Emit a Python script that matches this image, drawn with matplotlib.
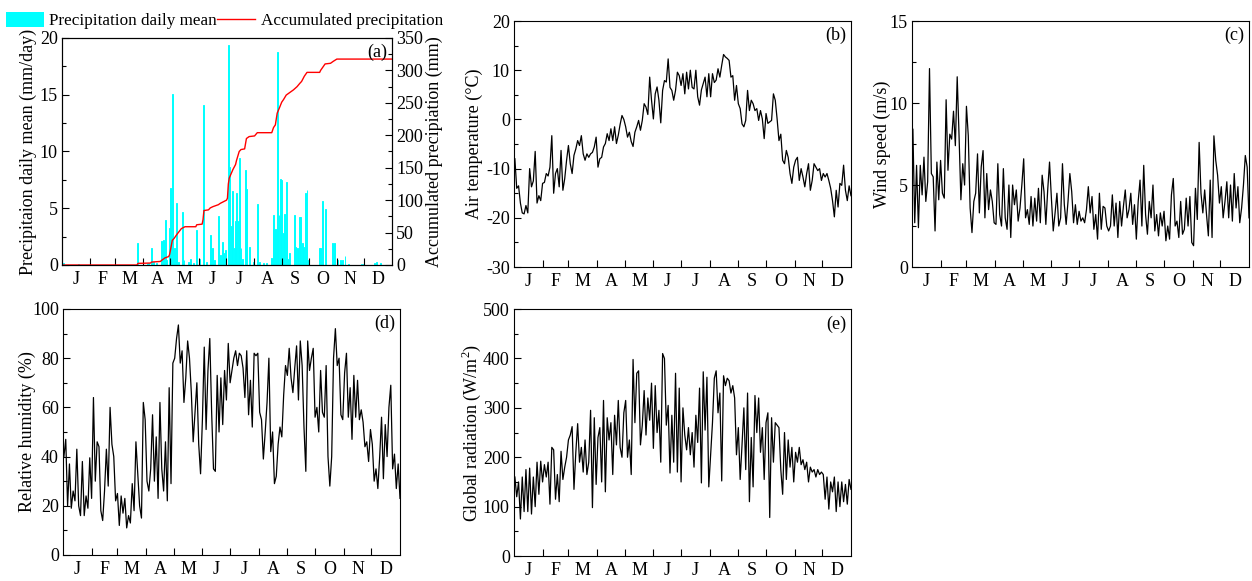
import numpy as np
import matplotlib
matplotlib.use("Agg")
import matplotlib.pyplot as plt
from matplotlib.patches import Patch
from matplotlib.lines import Line2D
from matplotlib.ticker import AutoMinorLocator

plt.rcParams['font.family'] = ['Liberation Serif', 'DejaVu Serif']
plt.rcParams['mathtext.fontset'] = 'custom'
plt.rcParams['mathtext.rm'] = 'Liberation Serif'
plt.rcParams['axes.unicode_minus'] = False

# months
month_edges = [31, 59, 90, 120, 151, 181, 212, 243, 273, 304, 334]
month_mid = [15.5, 45, 74.5, 105, 135.5, 166, 196.5, 227.5, 258, 288.5, 319, 349.5]
month_labels = ['J', 'F', 'M', 'A', 'M', 'J', 'J', 'A', 'S', 'O', 'N', 'D']

# (a) daily precipitation, rainy days only (mm/day)
rain_days = [2, 18, 84, 94, 96, 99, 101, 105, 110, 112, 114, 116, 119, 120, 122, 124,
             127, 129, 133, 135, 140, 142, 145, 149, 152, 156, 157, 160, 164, 166, 169,
             173, 175, 178, 179, 181, 184, 185, 187, 189, 191, 192, 193, 195, 196, 198,
             200, 203, 204, 207, 212, 216, 218, 223, 226, 232, 234, 236, 238, 240, 242,
             243, 245, 246, 248, 251, 252, 257, 258, 260, 261, 263, 264, 266, 267, 269,
             271, 273, 285, 286, 288, 291, 292, 299, 301, 302, 305, 308, 310, 313, 317,
             331, 333, 346, 348, 352]
rain_vals = [0.15, 0.1, 1.9, 0.2, 0.2, 1.5, 0.3, 0.2, 2.1, 2.2, 4.0, 0.4, 3.3, 6.8, 15.1, 1.5,
             5.5, 0.3, 4.7, 0.4, 0.3, 0.5, 0.2, 3.1, 0.5, 5.9, 14.1, 0.3, 2.6, 1.5, 0.4,
             4.3, 0.9, 2.0, 1.1, 1.3, 19.4, 8.6, 3.4, 6.5, 1.5, 3.9, 6.3, 3.9, 9.4, 1.5,
             0.5, 8.4, 6.7, 1.6, 0.3, 5.4, 0.3, 0.2, 0.2, 0.6, 4.4, 3.2, 18.8, 4.4, 7.6,
             7.5, 2.8, 4.5, 7.3, 0.5, 1.1, 4.4, 1.6, 1.5, 1.4, 4.2, 4.2, 1.9, 1.6, 6.3,
             6.6, 0.4, 1.5, 1.5, 5.6, 4.9, 0.3, 1.9, 1.9, 0.8, 0.4, 0.4, 0.4, 0.8, 0.1,
             0.1, 0.1, 0.2, 0.3, 0.2]

# (a) accumulated precipitation (mm)
acc_days = [1, 83, 84, 98, 99, 109, 110, 114, 118, 119, 120, 122, 124, 127, 132, 136,
            148, 149, 155, 156, 157, 162, 164, 167, 173, 175, 182, 183, 184, 185, 189,
            192, 193, 196, 198, 202, 204, 207, 213, 216, 232, 234, 236, 238, 241, 243,
            245, 248, 252, 256, 260, 263, 265, 268, 271, 285, 286, 288, 291, 297, 300,
            304, 365]
acc_vals = [0, 0, 2.5, 3, 4.5, 5.5, 7, 11, 13, 16, 23, 38, 41, 47, 56, 59,
            59, 62, 63, 70, 84, 85, 88, 90, 93, 95, 100, 103, 125, 134, 147,
            155, 161, 175, 178, 179, 195, 198, 199, 204, 204, 212, 216, 234, 244, 251,
            255, 262, 266, 270, 275, 280, 283, 291, 297, 297, 300, 304, 310, 311, 314,
            317.5, 317.5]

# daily series sampled every second day (day 1, 3, ..., 365), one row per month
days = np.arange(1, 366, 2)

air_temp = [
    -8, -14, -13.5, -17, -19, -19.2, -17.5, -19, -10, -13.7, -12.5, -6.5, -17, -15.5, -16.5, -13,
    -12.8, -11, -11.5, -9.7, -3.3, -15, -11, -10, -13.7, -6.3, -14.4, -12, -8.3, -5.3,
    -9, -11, -7.3, -6, -4.3, -5.3, -3.3, -7, -8.3, -7, -7.7, -7, -6.7, -5.6, -3.6,
    -9.7, -8, -7.7, -5.6, -4.9, -2.9, -4.3, -1.9, -4.3, -1.5, -4.9, -3.2, -1, 0.8, 0,
    -1.5, -3.6, -2.6, -4.5, -5.5, -2.6, -1.5, -0.2, -2.2, -0.2, 3.2, 2.5, 1.0, 8.6, 3.9, 0.1,
    5.2, 6.6, 3.9, -0.7, 5.9, 7.9, 7.6, 12.3, 6.5, 5.9, 3.9, 5.9, 9.6, 8.9, 6.9,
    9.3, 5.2, 9.6, 6.2, 10, 6.5, 6.2, 10, 4.6, 2.9, 6, 7.3, 8.6, 4.6, 9.3,
    4.6, 9.3, 7.5, 8, 10.3, 8.6, 11, 13.2, 12.7, 12.4, 12, 8.6, 8.9, 3.9, 6.9, 3.2,
    2.2, -0.9, -1.5, -0.2, 5.9, 1.8, 3.9, 3.2, 1.8, 2.2, -0.2, 1.8, 0.1, -3.9, 1.2,
    -0.8, -0.5, -0.2, 5.2, 3.9, 0.1, -4.3, -3, -8.3, -9, -6.3, -7.7, -11, -13, -9.7,
    -8.3, -7.7, -12.4, -10, -11.7, -13.7, -11, -9, -14.4, -12.4, -9, -9.7, -10.4, -10, -12.4,
    -11, -11.7, -11, -12.4, -14, -16.5, -19.8, -14.4, -17.8, -13, -13.4, -9.3, -14.4, -16.5, -13.5, -15.5,
]

wind_speed = [
    8.4, 2.7, 6.2, 2.4, 6.2, 4.4, 6.7, 4.0, 5.2, 12.1, 5.7, 5.5, 2.2, 6.4, 4.1, 6.5,
    4.5, 4.2, 10.2, 5.9, 8.1, 7.8, 9.5, 7.4, 11.6, 8.0, 4.1, 6.3, 5.0, 9.8,
    8.0, 3.6, 2.1, 4.0, 4.5, 6.9, 3.3, 6.1, 7.1, 3.0, 5.7, 3.5, 4.7, 4.0, 2.7,
    2.6, 6.3, 3.2, 2.5, 6.0, 3.0, 2.3, 5.0, 1.8, 5.0, 3.8, 4.7, 2.8, 3.6, 5.0,
    6.6, 3.0, 3.5, 2.6, 4.3, 2.5, 4.2, 2.8, 4.8, 2.7, 5.6, 4.6, 2.6, 4.7, 6.4, 4.2,
    2.2, 3.3, 4.5, 2.5, 3.0, 6.3, 3.8, 2.6, 4.0, 5.7, 4.6, 2.7, 3.8, 2.6, 3.4,
    2.8, 3.0, 2.7, 3.5, 4.9, 3.3, 4.3, 2.3, 3.2, 1.7, 4.5, 2.3, 3.7, 3.6, 2.5,
    2.2, 2.5, 4.4, 2.5, 3.9, 1.8, 4.0, 2.5, 3.7, 4.7, 3.0, 3.5, 4.5, 2.6, 3.8, 1.7,
    4.0, 5.3, 2.5, 6.2, 3.2, 2.0, 4.0, 3.0, 5.0, 2.2, 3.2, 1.9, 3.3, 2.5, 3.4,
    1.6, 2.5, 1.7, 4.4, 5.4, 2.5, 2.8, 1.8, 4.0, 2.0, 2.3, 4.2, 2.5, 4.3, 1.5,
    1.3, 4.8, 2.9, 7.6, 4.5, 3.3, 4.7, 3.2, 1.9, 5.3, 1.8, 8.0, 6.5, 5.6, 3.9,
    4.9, 3.0, 4.0, 5.2, 3.0, 5.0, 2.8, 5.7, 3.6, 4.9, 2.7, 3.6, 5.0, 6.8, 6.1, 3.0,
]

rel_humidity = [
    40, 47, 20, 37, 19, 26, 22, 43, 20, 16, 38, 16, 24, 19, 39.5, 23,
    64, 30, 46, 44, 18, 14, 26, 43, 28, 60, 45, 40, 22, 25,
    12, 24, 17, 23, 11, 16, 13, 29, 18, 46, 33, 20, 15, 62, 55,
    30, 26, 35, 57, 30, 48, 23, 62, 35, 26, 46, 22, 68, 29, 78,
    80, 88, 93.5, 78, 83, 62, 72, 87, 80, 66, 46, 58, 70, 45, 33, 55,
    84.5, 51, 75, 88, 58, 35, 34, 73, 50, 72, 53, 75, 63, 86, 70,
    75, 80, 83, 77, 82, 81, 76, 64, 83, 57, 71, 52, 82, 81, 82,
    58, 55, 39, 50, 62, 80, 42, 50, 29, 32, 45, 52, 48, 65, 77, 73,
    84, 72, 66, 76, 85, 63, 87, 77, 52, 34, 87, 75, 80, 84, 56,
    60, 50, 75, 58, 56, 77, 40, 28, 40, 80, 92, 77, 80, 57, 55,
    74, 82, 56, 68, 47, 73, 56, 71, 55, 59, 54, 44, 46, 38, 51,
    45, 30, 35, 27, 40, 56, 31, 53, 40, 60, 69, 35, 41, 27, 37, 23,
]

global_rad = [
    160, 120, 150, 75, 160, 90, 175, 90, 178, 85, 160, 100, 190, 125, 192, 150,
    185, 160, 190, 105, 220, 215, 115, 165, 110, 212, 155, 180, 200, 235,
    245, 262, 135, 210, 268, 190, 220, 170, 235, 165, 190, 295, 98, 280, 145,
    240, 260, 150, 315, 130, 280, 235, 270, 165, 285, 225, 315, 220, 200, 290,
    315, 200, 235, 165, 398, 270, 370, 375, 225, 265, 335, 245, 320, 275, 350, 218,
    345, 250, 295, 190, 410, 400, 265, 305, 168, 285, 190, 370, 170, 340, 150,
    300, 245, 215, 260, 205, 250, 180, 285, 230, 340, 148, 373, 255, 362, 140,
    205, 270, 360, 375, 290, 330, 152, 365, 345, 360, 355, 330, 345, 320, 205, 260,
    155, 225, 300, 175, 330, 110, 240, 140, 325, 250, 320, 210, 260, 155, 270,
    290, 78, 280, 190, 270, 265, 260, 175, 125, 250, 155, 235, 180, 220, 150,
    210, 190, 220, 185, 195, 175, 190, 150, 180, 170, 175, 160, 175, 165, 170,
    165, 115, 160, 95, 150, 130, 160, 90, 150, 100, 150, 110, 145, 105, 155, 135,
]

FS = 13
CYAN = '#00ffff'


def month_axis(ax):
    ax.set_xlim(0, 365)
    ax.set_xticks(month_edges)
    ax.set_xticklabels([])
    ax.set_xticks(month_mid, minor=True)
    ax.set_xticklabels(month_labels, minor=True, fontsize=FS)
    ax.tick_params(axis='x', which='minor', length=0, pad=4)
    ax.tick_params(axis='x', which='major', direction='in', length=5, width=0.8)


def y_style(ax, lo, hi, step):
    ax.set_ylim(lo, hi)
    ax.set_yticks(np.arange(lo, hi + step / 2, step))
    ax.yaxis.set_minor_locator(AutoMinorLocator(2))
    ax.tick_params(axis='y', which='major', direction='in', length=5, width=0.8,
                   labelsize=FS, pad=3)
    ax.tick_params(axis='y', which='minor', direction='in', length=3, width=0.8)


def tag(ax, s):
    ax.text(0.985, 0.975, s, transform=ax.transAxes, ha='right', va='top', fontsize=FS)


fig = plt.figure(figsize=(12.52, 5.81), dpi=100)

# (a)
ax_a = fig.add_axes([0.0495, 0.5439, 0.2636, 0.3907])
ax_a.bar(rain_days, rain_vals, width=1.0, color=CYAN, edgecolor=CYAN, linewidth=0.7)
month_axis(ax_a)
y_style(ax_a, 0, 20, 5)
ax_a.set_ylabel('Precipitaion daily mean (mm/day)', fontsize=FS, labelpad=2)
ax_a2 = ax_a.twinx()
ax_a2.plot(acc_days, acc_vals, color='red', lw=1.0)
ax_a2.set_ylim(0, 350)
ax_a2.set_yticks(np.arange(0, 351, 50))
ax_a2.yaxis.set_minor_locator(AutoMinorLocator(2))
ax_a2.tick_params(axis='y', which='major', direction='in', length=5, width=0.8,
                  labelsize=FS, pad=3)
ax_a2.tick_params(axis='y', which='minor', direction='in', length=3, width=0.8)
ax_a2.set_ylabel('Accumulated precipiation (mm)', fontsize=FS, labelpad=2)
tag(ax_a2, '(a)')

handles = [Patch(facecolor=CYAN, edgecolor='none'), Line2D([], [], color='red', lw=1.0)]
fig.legend(handles, ['Precipitation daily mean', 'Accumulated precipitation'],
           loc='upper left', bbox_to_anchor=(-0.005, 1.0), ncol=2, frameon=False,
           fontsize=12.3, handlelength=2.25, handleheight=1.0, handletextpad=0.3,
           columnspacing=0.0, borderaxespad=0.3)

# (b)
ax_b = fig.add_axes([0.4105, 0.5404, 0.2692, 0.4234])
ax_b.plot(days, air_temp, color='black', lw=0.9)
month_axis(ax_b)
y_style(ax_b, -30, 20, 10)
ax_b.set_ylabel('Air temperature (°C)', fontsize=FS, labelpad=2)
tag(ax_b, '(b)')

# (c)
ax_c = fig.add_axes([0.7284, 0.5404, 0.2692, 0.4234])
ax_c.plot(days, wind_speed, color='black', lw=0.9)
month_axis(ax_c)
y_style(ax_c, 0, 15, 5)
ax_c.set_ylabel('Wind speed (m/s)', fontsize=FS, labelpad=-1)
tag(ax_c, '(c)')

# (d)
ax_d = fig.add_axes([0.0503, 0.0448, 0.2692, 0.4234])
ax_d.plot(days, rel_humidity, color='black', lw=0.9)
month_axis(ax_d)
y_style(ax_d, 0, 100, 20)
ax_d.set_ylabel('Relative humidity (%)', fontsize=FS, labelpad=-3)
tag(ax_d, '(d)')

# (e)
ax_e = fig.add_axes([0.4105, 0.043, 0.2692, 0.425])
ax_e.plot(days, global_rad, color='black', lw=0.9)
month_axis(ax_e)
y_style(ax_e, 0, 500, 100)
ax_e.set_ylabel('Global radiation (W/m$^2$)', fontsize=FS, labelpad=0)
tag(ax_e, '(e)')

fig.savefig('out.png', dpi=100)
